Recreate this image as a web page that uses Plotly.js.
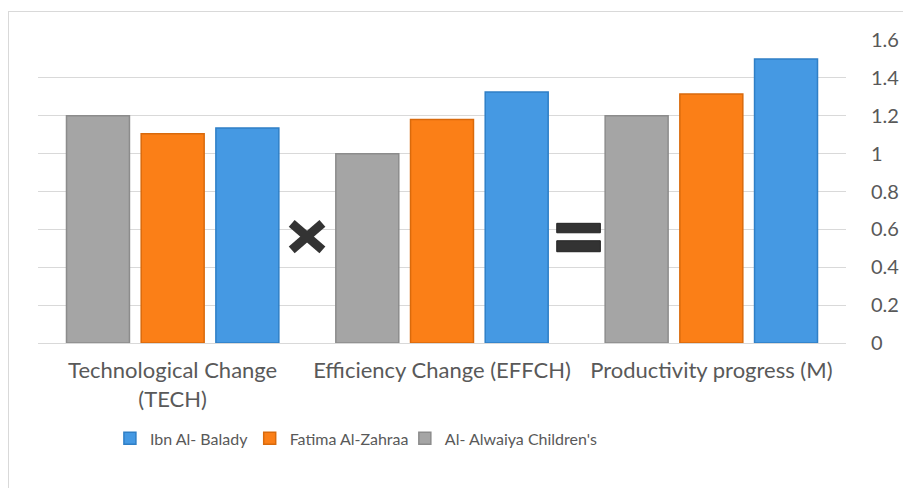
<!DOCTYPE html>
<html>
<head>
<meta charset="utf-8">
<script src="https://cdn.plot.ly/plotly-3.0.1.min.js"></script>
<style>
html,body{margin:0;padding:0;background:#fff;overflow:hidden;}
#wrap{position:relative;width:903px;height:488px;overflow:hidden;}
#chart{position:absolute;left:0;top:0;width:903px;height:488px;}
#frame{position:absolute;left:8px;top:11px;width:1000px;height:600px;border-top:1px solid #d9d9d9;border-left:1px solid #d9d9d9;pointer-events:none;}
</style>
</head>
<body>
<div id="wrap"><div id="chart"></div><div id="frame"></div></div>
<script>
var categories = ["Technological Change<br>(TECH)", "Efficiency Change (EFFCH)", "Productivity progress (M)"];
var alwaiya = [1.20, 1.00, 1.20];
var fatima = [1.105, 1.18, 1.315];
var ibn = [1.135, 1.325, 1.50];
var seriesNames = ["Al- Alwaiya Children's", "Fatima Al-Zahraa", "Ibn Al- Balady"];
var yTicks = [0, 0.2, 0.4, 0.6, 0.8, 1, 1.2, 1.4, 1.6];
var yTickText = ["0", "0.2", "0.4", "0.6", "0.8", "1", "1.2", "1.4", "1.6"];

var font = "Lato, Open Sans, sans-serif";
function bar(name, vals, color, edge, leg) {
  return {type: "bar", name: name, x: categories, y: vals, legend: leg,
    marker: {color: color, line: {color: edge, width: 1.5}},
    hoverinfo: "x+y"};
}
var data = [
  bar(seriesNames[0], alwaiya, "#a5a5a5", "#8c8c8c", "legend3"),
  bar(seriesNames[1], fatima, "#fb7f17", "#d96a0c", "legend2"),
  bar(seriesNames[2], ibn, "#4599e3", "#2f7fc6", "legend")
];
function leg(x) {
  return {orientation: "h", x: x, xanchor: "left", y: -0.315, yanchor: "middle",
    font: {size: 16, color: "#595959"}, itemwidth: 30, bgcolor: "rgba(0,0,0,0)"};
}
var layout = {
  width: 903, height: 488,
  margin: {l: 38, r: 57, t: 40, b: 145},
  paper_bgcolor: "#ffffff", plot_bgcolor: "#ffffff",
  barmode: "group", bargap: 0.168, bargroupgap: 0.157,
  font: {family: font, size: 16, color: "#595959"},
  xaxis: {type: "category", showgrid: false, showline: false, ticks: "", tickfont: {size: 22, color: "#595959"}, automargin: false, ticklabelstandoff: 12},
  yaxis: {side: "right", range: [0, 1.6], tickvals: yTicks, ticktext: yTickText, showgrid: true, gridcolor: "#d9d9d9", gridwidth: 1, zeroline: true, zerolinecolor: "#d9d9d9", zerolinewidth: 1, showline: false, ticks: "outside", ticklen: 20, tickcolor: "rgba(255,255,255,0)", tickfont: {size: 20, color: "#595959"}, automargin: false},
  showlegend: true,
  legend: leg(0.089),
  legend2: leg(0.262),
  legend3: leg(0.454),
  shapes: [
    {type: "line", xref: "paper", yref: "y", x0: 0.314, x1: 0.352, y0: 0.632, y1: 0.492, line: {color: "#333333", width: 9}},
    {type: "line", xref: "paper", yref: "y", x0: 0.314, x1: 0.352, y0: 0.492, y1: 0.632, line: {color: "#333333", width: 9}},
    {type: "rect", xref: "paper", yref: "y", x0: 0.642, x1: 0.696, y0: 0.582, y1: 0.632, fillcolor: "#333333", line: {color: "#222222", width: 1}},
    {type: "rect", xref: "paper", yref: "y", x0: 0.642, x1: 0.696, y0: 0.482, y1: 0.540, fillcolor: "#333333", line: {color: "#222222", width: 1}}
  ]
};
Plotly.newPlot("chart", data, layout, {displayModeBar: false, staticPlot: true});
</script>
</body>
</html>
